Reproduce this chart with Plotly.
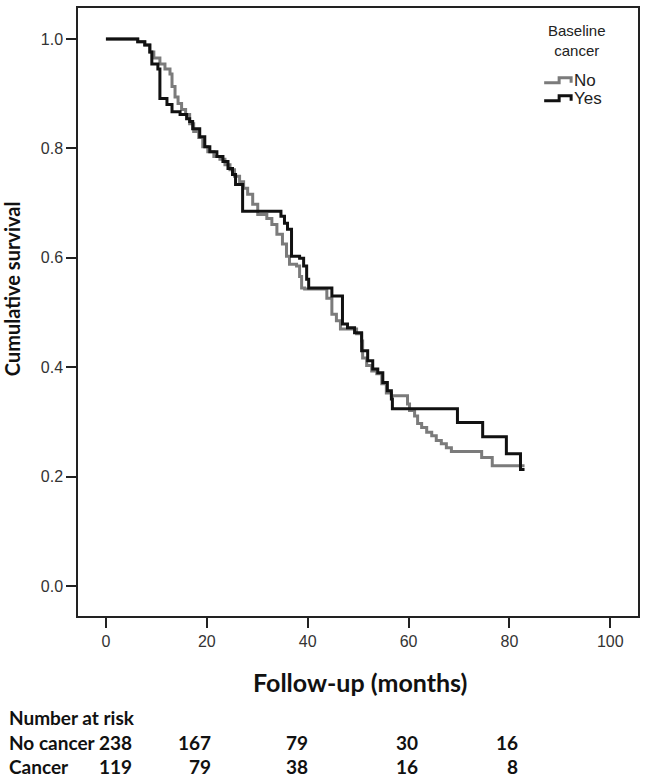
import plotly.graph_objects as go

# ---------------- data ----------------
no_time = [0, 6.3, 7.7, 8.7, 9.5, 10.7, 11.7, 12.7, 13.1, 13.7, 14.3, 15.0, 15.8, 16.6, 17.4, 18.4,
           19.2, 20.2, 21.4, 22.6, 23.6, 24.6, 25.5, 26.5, 27.3, 28.1, 29.1, 30.1, 31.9, 32.9, 33.9,
           35.0, 35.8, 36.4, 37.8, 38.4, 38.8, 39.4, 43.8, 44.8, 45.7, 46.5, 49.7, 50.7, 50.9, 51.7,
           52.7, 53.7, 54.7, 55.6, 56.6, 59.8, 60.2, 61.2, 61.8, 62.6, 63.6, 64.6, 65.5, 66.5, 67.5,
           68.5, 74.5, 76.6, 83.0]
no_surv = [1.0, .995, .989, .976, .965, .954, .945, .936, .913, .894, .882, .871, .862, .845, .831, .820,
           .803, .794, .785, .780, .770, .761, .749, .739, .727, .716, .698, .679, .672, .661, .643,
           .625, .603, .588, .585, .566, .545, .543, .526, .497, .485, .470, .461, .448, .417, .403,
           .393, .388, .370, .353, .348, .333, .321, .311, .297, .290, .281, .275, .266, .260, .253,
           .246, .235, .220, .220]

yes_time = [0, 6.3, 7.7, 8.7, 9.1, 10.3, 10.7, 12.1, 13.1, 14.7, 16.0, 16.6, 17.2, 18.6, 19.6, 20.6,
            22.0, 23.2, 24.2, 25.1, 25.7, 27.1, 34.7, 35.4, 36.0, 36.8, 38.4, 39.2, 39.8, 40.2, 44.8,
            46.9, 47.9, 49.3, 50.7, 51.9, 52.9, 53.9, 54.9, 55.8, 56.6, 56.8, 69.7, 74.7, 79.4, 82.2, 83.0]
yes_surv = [1.0, .995, .989, .976, .954, .945, .891, .880, .867, .862, .854, .849, .836, .821, .803, .794,
            .785, .776, .763, .752, .734, .685, .676, .663, .652, .603, .599, .585, .561, .545, .530,
            .479, .472, .463, .430, .412, .397, .390, .372, .357, .342, .324, .299, .273, .242, .213, .213]

series_names = ["No", "Yes"]
legend_title = "Baseline<br>cancer"

x_ticks = [0, 20, 40, 60, 80, 100]
y_ticks = [0.0, 0.2, 0.4, 0.6, 0.8, 1.0]
y_ticklabels = ["0.0", "0.2", "0.4", "0.6", "0.8", "1.0"]

risk_times = [0, 20, 40, 60, 80]
risk_no_cancer = [238, 167, 79, 30, 16]
risk_cancer = [119, 79, 38, 16, 8]
risk_header = "Number at risk"
risk_row_labels = ["No cancer", "Cancer"]

x_title = "Follow-up (months)"
y_title = "Cumulative survival"

# ---------------- layout helpers ----------------
W, H = 646, 781
L, R, T, B = 78, 639, 6, 616  # plot area in pixels


def pxx(px):
    return (px - L) / (R - L)


def pyy(py):
    return (B - py) / (B - T)


GRAY = "#7b7b7b"
BLACK = "#111111"

fig = go.Figure()
fig.add_trace(go.Scatter(x=no_time, y=no_surv, mode="lines", line=dict(shape="hv", color=GRAY, width=3),
                         name=series_names[0], showlegend=False))
fig.add_trace(go.Scatter(x=yes_time, y=yes_surv, mode="lines", line=dict(shape="hv", color=BLACK, width=3),
                         name=series_names[1], showlegend=False))

tickfont = dict(family="Liberation Sans, Arial", size=16, color="#333333")
fig.update_xaxes(range=[-5.54, 105.5], tickvals=x_ticks, ticks="outside", ticklen=10, tickwidth=1.5,
                 tickcolor="#222", showline=True, linecolor="#222", linewidth=1.5, mirror=True,
                 showgrid=False, zeroline=False, tickfont=tickfont)
fig.update_yaxes(range=[-0.0546, 1.0565], tickvals=y_ticks, ticktext=y_ticklabels, ticks="outside",
                 ticklen=10, tickwidth=1.5, tickcolor="#222", showline=True, linecolor="#222",
                 linewidth=1.5, mirror=True, showgrid=False, zeroline=False, tickfont=tickfont)

ann = []
bold = dict(family="Lato, Carlito, sans-serif", color="#111111")
ann.append(dict(text="<b>%s</b>" % x_title, xref="paper", yref="paper", x=pxx(361), y=pyy(682),
                showarrow=False, font=dict(size=25, **bold), xanchor="center", yanchor="middle"))
ann.append(dict(text="<b>%s</b>" % y_title, xref="paper", yref="paper", x=pxx(12), y=pyy(288),
                showarrow=False, textangle=-90, font=dict(size=20, **bold),
                xanchor="center", yanchor="middle"))

# number at risk table
ann.append(dict(text="<b>%s</b>" % risk_header, xref="paper", yref="paper", x=pxx(7), y=pyy(718),
                showarrow=False, font=dict(size=19, **bold), xanchor="left", yanchor="middle"))
row_y = [743, 767]
for lab, yy in zip(risk_row_labels, row_y):
    ann.append(dict(text="<b>%s</b>" % lab, xref="paper", yref="paper", x=pxx(7), y=pyy(yy),
                    showarrow=False, font=dict(size=19, **bold), xanchor="left", yanchor="middle"))
col_shift = [28, 6, 2, 11, 11]
for vals, yy in zip([risk_no_cancer, risk_cancer], row_y):
    for t, v, sh in zip(risk_times, vals, col_shift):
        ann.append(dict(text="<b>%d</b>" % v, xref="x", yref="paper", x=t, xshift=sh, y=pyy(yy),
                        showarrow=False, font=dict(size=19, **bold), xanchor="right", yanchor="middle"))

# legend (drawn manually, step-shaped glyphs)
legfont = dict(family="Liberation Sans, Arial", color="#222222")
ann.append(dict(text=legend_title, xref="paper", yref="paper", x=pxx(578), y=pyy(39),
                showarrow=False, font=dict(size=15, **legfont), xanchor="center", yanchor="middle"))
shapes = []
for name, col, yb in zip(series_names, [GRAY, BLACK], [81, 99]):
    path = "M %f,%f L %f,%f L %f,%f L %f,%f L %f,%f" % (
        pxx(545), pyy(yb), pxx(560), pyy(yb), pxx(560), pyy(yb - 5), pxx(572), pyy(yb - 5),
        pxx(572), pyy(yb))
    shapes.append(dict(type="path", path=path, xref="paper", yref="paper",
                       line=dict(color=col, width=3)))
    ann.append(dict(text=name, xref="paper", yref="paper", x=pxx(573), y=pyy(yb - 2),
                    showarrow=False, font=dict(size=17, **legfont), xanchor="left", yanchor="middle"))

fig.update_layout(width=W, height=H, margin=dict(l=L, r=W - R, t=T, b=H - B),
                  paper_bgcolor="white", plot_bgcolor="white", annotations=ann, shapes=shapes,
                  showlegend=False)

fig.write_html("out.html", config={"displayModeBar": False},
               post_script="document.body.style.margin='0px';document.body.style.overflow='hidden';")
